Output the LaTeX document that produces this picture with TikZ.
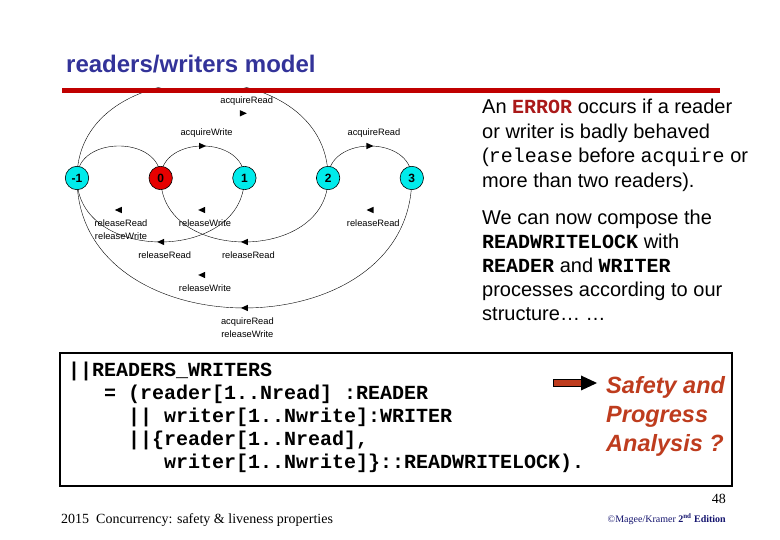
\documentclass[tikz,border=0pt]{standalone}
\usepackage{fontspec}
\setmainfont{Liberation Sans}
\setmonofont{Liberation Mono}
\newfontfamily\timesfont{Liberation Serif}
\usetikzlibrary{positioning,backgrounds}

\definecolor{titleblue}{RGB}{51,51,153}
\definecolor{barred}{RGB}{192,0,0}
\definecolor{statecyan}{RGB}{0,235,235}
\definecolor{errred}{RGB}{230,0,0}
\definecolor{codered}{RGB}{170,25,25}
\definecolor{safetyred}{RGB}{190,60,30}
\definecolor{footnavy}{RGB}{20,20,110}

\begin{document}
\begin{tikzpicture}[x=1pt, y=-1pt,
  state/.style={circle, draw, line width=0.6pt, fill=statecyan, minimum size=23.4pt,
                inner sep=0pt, outer sep=0pt, font=\fontsize{12}{12}\selectfont\bfseries},
  lbl/.style={font=\fontsize{9.3}{12.7}\selectfont, align=center, inner sep=0pt},
  para/.style={anchor=base west, align=left, inner sep=0pt, font=\fontsize{20}{24.5}\selectfont},
  trans/.style={line width=0.5pt},
  arrR/.pic={\fill (-3.5,-3.2) -- (3.5,0) -- (-3.5,3.2) -- cycle;},
  arrL/.pic={\fill (3.5,-3.2) -- (-3.5,0) -- (3.5,3.2) -- cycle;}]
  \useasboundingbox (0,0) rectangle (780,540);

  % title and bar
  \node[anchor=base west, inner sep=0pt, text=titleblue, font=\fontsize{24}{24}\selectfont\bfseries]
    (title) at (66,73) {readers/writers model};

  % lock states
  \node[state] (sm1) at (77,178) {-1};
  \node[state, fill=errred, right=60.3pt of sm1] (s0) {0};
  \node[state, right=60.3pt of s0] (s1) {1};
  \node[state, right=60.3pt of s1] (s2) {2};
  \node[state, right=60.3pt of s2] (s3) {3};

  \begin{scope}[on background layer, trans]
    \begin{scope}
      \clip (0,88) rectangle (470,540);
      \draw (sm1.center) .. controls +(0,-128) and +(0,-128) .. (s2.center);
    \end{scope}
    \draw (sm1.center) .. controls +(0,-42.7) and +(0,-42.7) .. (s0.center);
    \draw (s0.center) .. controls +(0,-42.7) and +(0,-42.7) .. (s1.center)
      pic[pos=.5]{arrR} node[lbl, pos=.5, xshift=4pt, yshift=12.7pt] (lw) {acquireWrite};
    \draw (s2.center) .. controls +(0,-42.7) and +(0,-42.7) .. (s3.center)
      pic[pos=.5]{arrR} node[lbl, pos=.5, xshift=4pt, yshift=12.7pt] (lr3) {acquireRead};
    \draw (s1.center) .. controls +(0,85.3) and +(0,85.3) .. (sm1.center)
      pic[pos=.5]{arrL} node[lbl, pos=.5, xshift=4pt, yshift=-13.7pt] (le1) {releaseRead};
    \draw (s2.center) .. controls +(0,85.3) and +(0,85.3) .. (s0.center)
      pic[pos=.5]{arrL} node[lbl, pos=.5, xshift=4pt, yshift=-13.7pt] (lr0) {releaseRead};
    \draw (s3.center) .. controls +(0,173.3) and +(0,173.3) .. (sm1.center)
      pic[pos=.5]{arrL} node[lbl, pos=.5, xshift=3pt, yshift=-19.5pt] (le3) {acquireRead\\releaseWrite};
  \end{scope}

  % labels whose arcs are not drawn
  \pic at (243.3,113.3) {arrR};
  \node[lbl] (lr2) at (246.7,100.7) {acquireRead};
  \pic at (118.3,210) {arrL};
  \node[lbl] (le0) at (121,229.7) {releaseRead\\releaseWrite};
  \pic at (201.7,210) {arrL};
  \node[lbl] (lw0) at (205,223.3) {releaseWrite};
  \pic at (370,210) {arrL};
  \node[lbl] (lr32) at (373.3,223.3) {releaseRead};
  \pic at (201.7,275) {arrL};
  \node[lbl] (le2) at (205,288.3) {releaseWrite};

  \draw[barred, line width=5pt] (62,90.5) -- (720,90.5);

  % explanation (base = last line)
  \node[para] (err) at (482,187.5) {An \texttt{\bfseries\color{codered}ERROR} occurs if a reader\\
    or writer is badly behaved\\(\texttt{release} before \texttt{acquire} or\\more than two readers).};
  \node[para, font=\fontsize{20}{24.2}\selectfont] (comp) at (482,320.8) {We can now compose the\\\texttt{\bfseries READWRITELOCK} with\\
    \texttt{\bfseries READER} and \texttt{\bfseries WRITER}\\processes according to our\\structure\dots\ \dots};

  % composition
  \node[draw, line width=2pt, minimum width=672pt, minimum height=133pt, inner sep=0pt]
    (box) at (396,419.5) {};
  \node[para, font=\fontsize{20}{23.2}\selectfont\ttfamily\bfseries] (code) at (68,468.8)
    {||READERS\_WRITERS\\
     \hspace*{36pt}= (reader[1..Nread] :READER\\
     \hspace*{60pt}|| writer[1..Nwrite]:WRITER\\
     \hspace*{60pt}||\{reader[1..Nread],\\
     \hspace*{96pt}writer[1..Nwrite]\}::READWRITELOCK).};
  \draw[fill=safetyred, line width=1pt] (553,379.5) rectangle (583,386.5);
  \fill (581,375.5) -- (597,383) -- (581,390.5) -- cycle;
  \node[para, font=\fontsize{23.5}{29}\selectfont\bfseries\itshape, text=safetyred]
    (safety) at (606,451) {Safety and\\Progress\\Analysis ?};

  % footer
  \node[anchor=base east, inner sep=0pt, font=\timesfont\fontsize{14}{14}\selectfont] (page) at (726,503) {48};
  \node[anchor=base west, inner sep=0pt, font=\timesfont\fontsize{14}{14}\selectfont]
    (foot) at (61,523) {2015\ \ Concurrency: safety \& liveness properties};
  \node[anchor=base east, inner sep=0pt, text=footnavy, font=\timesfont\fontsize{10}{10}\selectfont]
    (copy) at (726,522) {©Magee/Kramer \textbf{2\textsuperscript{nd} Edition}};
\end{tikzpicture}
\end{document}
